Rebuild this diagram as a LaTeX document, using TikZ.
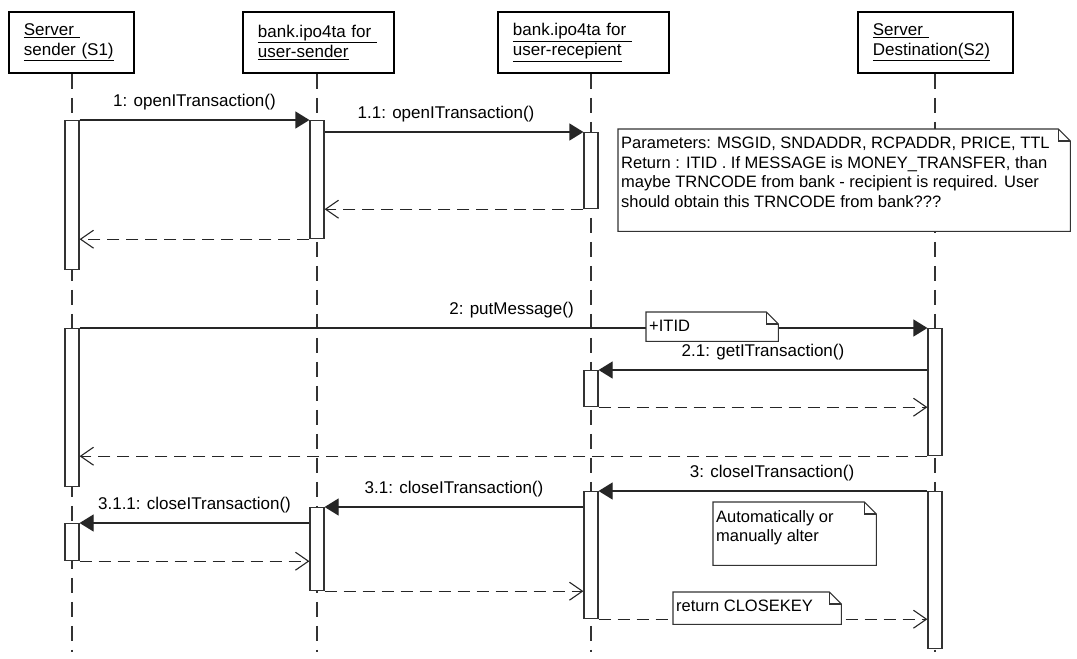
\documentclass[tikz,border=0pt]{standalone}
\usepackage{fontspec}
\setmainfont{Liberation Sans}
\usetikzlibrary{arrows.meta,calc}

% UML note: name, x, y, width, height, text
\newcommand\umlnote[6]{%
  \node[noteframe, minimum width=#4pt, minimum height=#5pt] (#1) at (#2,#3) {};
  \draw[noteline] (#1.north west) -- ([xshift=-12pt]#1.north east)
    -- ([yshift=-12pt]#1.north east) -- (#1.south east) -- (#1.south west) -- cycle;
  \draw[noteline] ([xshift=-12pt]#1.north east) -- ([xshift=-12pt,yshift=-12pt]#1.north east)
    -- ([yshift=-12pt]#1.north east);
  \node[notetxt] (#1t) at ([xshift=3pt,yshift=-8pt]#1.north west) {#6};
}

\begin{document}
\begin{tikzpicture}[x=1pt,y=-1pt,
  head/.style={draw=black, line width=1.8pt, anchor=north west, minimum height=61pt,
    inner xsep=15pt, inner ysep=0pt, align=left, font=\fontsize{17}{20}\selectfont},
  lifeline/.style={draw=black!80, line width=1.1pt, dash pattern=on 15pt off 9pt},
  bar/.style={draw=black!80, fill=white, line width=1.2pt, minimum width=14pt,
    inner sep=0pt, anchor=north},
  msg/.style={draw=black!85, line width=1.2pt, -{Triangle[length=14pt,width=17pt]}},
  ret/.style={draw=black!85, line width=1.1pt, dash pattern=on 12pt off 7pt,
    -{Straight Barb[length=13pt,width=18pt]}},
  lbl/.style={midway, anchor=south, inner sep=0pt, yshift=9pt,
    font=\fontsize{17}{19}\selectfont},
  noteframe/.style={fill=white, anchor=north west, inner sep=0pt},
  notetxt/.style={anchor=north west, inner sep=0pt, align=left,
    font=\fontsize{16.5}{19.5}\selectfont},
  noteline/.style={draw=black!80, line width=1.1pt}
]
\useasboundingbox (0,0) rectangle (1077,659);
\fill[white] (0,0) rectangle (1077,659);

% participants
\node[head, text width=95pt]  (h1) at (8,11)   {\underline{Server\ }\\\underline{sender (S1)}};
\node[head, text width=121pt] (h2) at (242,11) {\underline{bank.ipo4ta for\ }\\\underline{user-sender}};
\node[head, text width=141pt] (h3) at (497,11) {\underline{bank.ipo4ta for\ }\\\underline{user-recepient}};
\node[head, text width=125pt] (h4) at (857,11) {\underline{Server\ }\\\underline{Destination(S2)}};

% lifelines
\coordinate (L1) at (72,652);
\coordinate (L2) at (317,652);
\coordinate (L3) at (591,652);
\coordinate (L4) at (935,652);
\draw[lifeline] (h1.south -| L1) -- (L1);
\draw[lifeline] (h2.south -| L2) -- (L2);
\draw[lifeline] (h3.south -| L3) -- (L3);
\draw[lifeline] (h4.south -| L4) -- (L4);

% activation bars
\node[bar, minimum height=149pt] (a1) at (72,120) {};
\node[bar, minimum height=118pt] (a2) at (317,120) {};
\node[bar, minimum height=76pt]  (a3) at (591,132) {};
\node[bar, minimum height=158pt] (b1) at (72,328) {};
\node[bar, minimum height=127pt] (b4) at (935,328) {};
\node[bar, minimum height=36pt]  (b3) at (591,370) {};
\node[bar, minimum height=157pt] (c4) at (935,491) {};
\node[bar, minimum height=127pt] (c3) at (591,491) {};
\node[bar, minimum height=83pt]  (c2) at (317,507) {};
\node[bar, minimum height=37pt]  (c1) at (72,523) {};

% opening the transaction
\draw[msg] (a1.north east) -- node[lbl] {1: openITransaction()} (a2.north west);
\draw[msg] (a2.east |- a3.north) -- node[lbl, xshift=-8pt] {1.1: openITransaction()} (a3.north west);
\draw[ret] (a3.south west) -- (a2.east |- a3.south);
\draw[ret] (a2.south west) -- (a1.east |- a2.south);

% sending the message
\draw[msg] (b1.north east) -- node[lbl, xshift=8pt] {2: putMessage()} (b4.north west);
\draw[msg] (b4.west |- b3.north) -- node[lbl] {2.1: getITransaction()} (b3.north east);
\draw[ret] (b3.south east) -- (b4.west |- b3.south);
\draw[ret] (b4.south west) -- (b1.east |- b4.south);

% closing the transaction
\draw[msg] (c4.north west) -- node[lbl, xshift=9pt] {3: closeITransaction()} (c3.north east);
\draw[msg] (c3.west |- c2.north) -- node[lbl] {3.1: closeITransaction()} (c2.north east);
\draw[msg] (c2.west |- c1.north) -- node[lbl] {3.1.1: closeITransaction()} (c1.north east);
\draw[ret] (c1.south east) -- (c2.west |- c1.south);
\draw[ret] (c2.south east) -- (c3.west |- c2.south);
\draw[ret] (c3.south east) -- (c4.west |- c3.south);

% notes
\umlnote{n1}{618}{129}{452}{102}{Parameters: MSGID, SNDADDR, RCPADDR, PRICE, TTL\\
  Return : ITID . If MESSAGE is MONEY\_TRANSFER, than\\
  maybe TRNCODE from bank - recipient is required. User\\
  should obtain this TRNCODE from bank???}
\umlnote{n2}{646}{312}{132}{29}{+ITID}
\umlnote{n3}{713}{502}{163}{63}{Automatically or\\manually alter}
\umlnote{n4}{673}{592}{168}{32}{return CLOSEKEY}
\end{tikzpicture}
\end{document}
